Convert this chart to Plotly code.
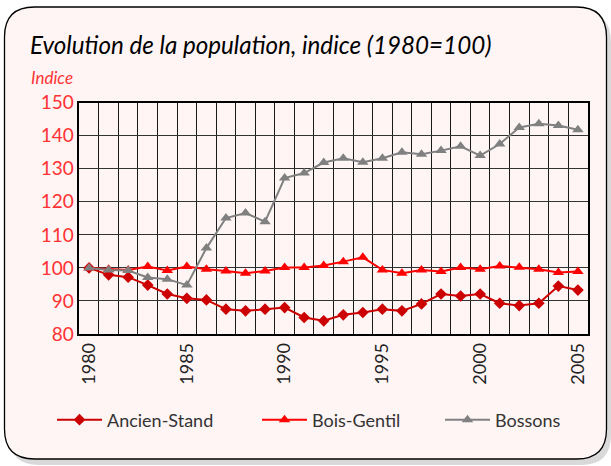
import plotly.graph_objects as go

years = list(range(1980, 2006))

ancien_stand = [100, 97.9, 97.2, 94.8, 92.1, 90.8, 90.3, 87.5, 87.0, 87.5, 88.0, 85.0, 84.0,
                85.8, 86.5, 87.5, 87.0, 89.1, 92.1, 91.5, 92.1, 89.3, 88.6, 89.3, 94.5, 93.3]
bois_gentil = [100, 99.6, 99.4, 100.4, 99.2, 100.4, 99.6, 99.1, 98.4, 99.1, 100.1, 100.1, 100.7,
               101.9, 103.2, 99.4, 98.4, 99.4, 98.9, 100.1, 99.6, 100.6, 100.2, 99.6, 98.6, 98.9]
bossons = [100, 99.4, 99.2, 97.1, 96.6, 94.8, 106.0, 115.1, 116.6, 114.0, 127.2, 128.7, 131.9,
           133.2, 132.0, 133.2, 135.0, 134.4, 135.5, 136.8, 134.0, 137.5, 142.5, 143.6, 143.1, 141.8]

W, H = 611, 466
bg = '#FFF5F5'
font_family = 'Lato, Open Sans, sans-serif'

fig = go.Figure()

fig.add_trace(go.Scatter(x=years, y=ancien_stand, mode='lines+markers', name='Ancien-Stand',
    line=dict(width=2, color='#CC0000'),
    marker=dict(symbol='diamond', size=9, color='#CC0000'), legend='legend'))

fig.add_trace(go.Scatter(x=years, y=bois_gentil, mode='lines+markers', name='Bois-Gentil',
    line=dict(width=2, color='#FF0000'),
    marker=dict(symbol='triangle-up', size=10, color='#FF0000'), legend='legend2'))

fig.add_trace(go.Scatter(x=years, y=bossons, mode='lines+markers', name='Bossons',
    line=dict(width=2, color='#808080'),
    marker=dict(symbol='triangle-up', size=10, color='#808080'), legend='legend3'))

# rounded frame with a soft shadow, in pixel -> paper coordinates
def rounded_path(x0, y0, x1, y1, r):
    px = lambda v: v / W
    py = lambda v: 1 - v / H
    return (f"M {px(x0 + r)},{py(y0)} L {px(x1 - r)},{py(y0)} "
            f"Q {px(x1)},{py(y0)} {px(x1)},{py(y0 + r)} L {px(x1)},{py(y1 - r)} "
            f"Q {px(x1)},{py(y1)} {px(x1 - r)},{py(y1)} L {px(x0 + r)},{py(y1)} "
            f"Q {px(x0)},{py(y1)} {px(x0)},{py(y1 - r)} L {px(x0)},{py(y0 + r)} "
            f"Q {px(x0)},{py(y0)} {px(x0 + r)},{py(y0)} Z")

fig.add_shape(type='path', path=rounded_path(9, 12, 611, 465, 30), xref='paper', yref='paper',
              fillcolor='#D9D9D9', line=dict(width=0), layer='below')
fig.add_shape(type='path', path=rounded_path(4.5, 7, 606.5, 459, 30), xref='paper', yref='paper',
              fillcolor=bg, line=dict(width=1.3, color='black'), layer='below')

fig.add_annotation(text='<i>Evolution de la population, indice (1980=100)</i>',
    xref='paper', yref='paper', x=28 / W, y=1 - 45 / H, xanchor='left', yanchor='middle',
    showarrow=False, font=dict(size=24.2, color='black', family=font_family))
fig.add_annotation(text='<i>Indice</i>',
    xref='paper', yref='paper', x=29 / W, y=1 - 77 / H, xanchor='left', yanchor='middle',
    showarrow=False, font=dict(size=17, color='#FF3333', family=font_family))

fig.update_xaxes(
    domain=[79.3 / W, 587.7 / W],
    range=[1979.5, 2005.5],
    tickmode='linear', tick0=1980, dtick=5,
    tickangle=-90,
    tickfont=dict(size=18, color='#222222', family=font_family),
    showgrid=False,
    minor=dict(tickmode='linear', tick0=1979.5, dtick=1, showgrid=True,
               gridcolor='#1a1a1a', gridwidth=1.2),
    showline=True, linecolor='black', linewidth=1.5, mirror=True,
    zeroline=False, ticks='', automargin=False,
)
fig.update_yaxes(
    domain=[1 - 334 / H, 1 - 102.7 / H],
    range=[80, 150],
    tickmode='linear', tick0=80, dtick=10,
    tickfont=dict(size=19, color='#FF3333', family=font_family),
    showgrid=True, gridcolor='#333333', gridwidth=1.2,
    showline=True, linecolor='black', linewidth=1.5, mirror=True,
    zeroline=False, ticks='', automargin=False,
)

legend_style = dict(
    orientation='h', xanchor='left',
    y=1 - 420 / H, yanchor='middle',
    bgcolor='rgba(0,0,0,0)',
    font=dict(size=18, color='#333333', family=font_family),
    itemwidth=45,
)

fig.update_layout(
    width=W, height=H,
    margin=dict(l=0, r=0, t=0, b=0),
    paper_bgcolor='white',
    plot_bgcolor=bg,
    font=dict(family=font_family),
    showlegend=True,
    legend=dict(x=52 / W, **legend_style),
    legend2=dict(x=257 / W, **legend_style),
    legend3=dict(x=440 / W, **legend_style),
)

fig.write_html("out.html", config={'displayModeBar': False},
               post_script="document.body.style.margin='0';")
